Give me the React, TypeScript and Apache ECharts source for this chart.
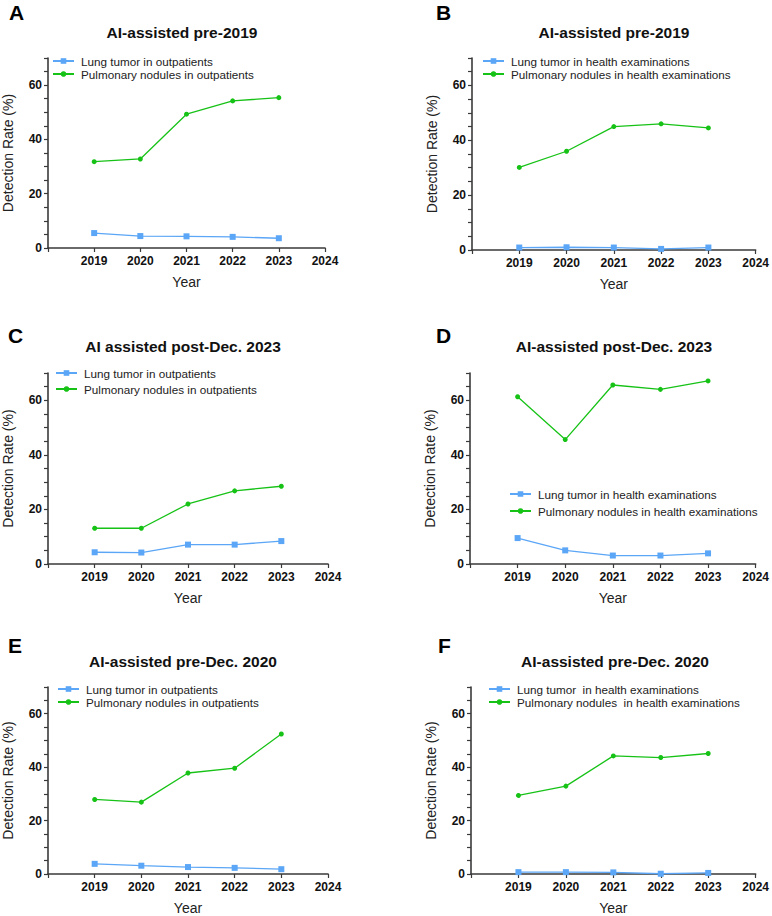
import React, { useEffect, useRef } from "react";
import * as echarts from "echarts";

const years = [2019, 2020, 2021, 2022, 2023];
const yTicks = [0, 20, 40, 60];
const xTickLabels = [2019, 2020, 2021, 2022, 2023, 2024];

const titles = [
  "AI-assisted pre-2019",
  "AI-assisted pre-2019",
  "AI assisted post-Dec. 2023",
  "AI-assisted post-Dec. 2023",
  "AI-assisted pre-Dec. 2020",
  "AI-assisted pre-Dec. 2020",
];
const letters = ["A", "B", "C", "D", "E", "F"];

const tumorNames = [
  "Lung tumor in outpatients",
  "Lung tumor in health examinations",
  "Lung tumor in outpatients",
  "Lung tumor in health examinations",
  "Lung tumor in outpatients",
  "Lung tumor  in health examinations",
];
const noduleNames = [
  "Pulmonary nodules in outpatients",
  "Pulmonary nodules in health examinations",
  "Pulmonary nodules in outpatients",
  "Pulmonary nodules in health examinations",
  "Pulmonary nodules in outpatients",
  "Pulmonary nodules  in health examinations",
];

const tumorA = [5.5, 4.4, 4.3, 4.1, 3.6];
const noduleA = [31.8, 32.8, 49.3, 54.2, 55.4];
const tumorB = [0.9, 1.0, 0.9, 0.4, 0.9];
const noduleB = [30.1, 36.0, 45.0, 46.0, 44.5];
const tumorC = [4.3, 4.2, 7.1, 7.1, 8.4];
const noduleC = [13.1, 13.1, 22.0, 26.8, 28.5];
const tumorD = [9.5, 5.0, 3.1, 3.1, 3.9];
const noduleD = [61.3, 45.6, 65.6, 64.0, 67.1];
const tumorE = [3.8, 3.1, 2.6, 2.3, 1.8];
const noduleE = [27.9, 26.9, 37.8, 39.6, 52.4];
const tumorF = [0.7, 0.7, 0.6, 0.1, 0.4];
const noduleF = [29.4, 32.9, 44.2, 43.6, 45.1];

const tumorSets = [tumorA, tumorB, tumorC, tumorD, tumorE, tumorF];
const noduleSets = [noduleA, noduleB, noduleC, noduleD, noduleE, noduleF];

// layout (pixels)
const grids = [
  { left: 40, top: 58, width: 285, height: 190 },
  { left: 472, top: 58, width: 286, height: 192 },
  { left: 40, top: 373, width: 288, height: 191 },
  { left: 470, top: 373, width: 288, height: 191 },
  { left: 40, top: 687, width: 288, height: 191 },
  { left: 471, top: 687, width: 287, height: 191 },
];
const titlePos = [
  [182, 32],
  [614, 32],
  [183, 346],
  [614, 346],
  [183, 661],
  [615, 661],
];
const letterPos = [
  [9, 12],
  [436, 12],
  [8, 335],
  [436, 335],
  [8, 645],
  [438, 645],
];
const legendPos = [
  { left: 52, top: 55, gap: 0 },
  { left: 482, top: 55, gap: 0 },
  { left: 55, top: 367, gap: 3 },
  { left: 509, top: 488, gap: 4 },
  { left: 57, top: 683, gap: 0 },
  { left: 488, top: 683, gap: 0 },
];

const BLUE = "#5ba6f6";
const GREEN = "#17c217";
const AXIS = "#3a3a3a";
const FONT = "Liberation Sans, Arial, sans-serif";

export default function App() {
  const ref = useRef<HTMLDivElement>(null);
  useEffect(() => {
    if (!ref.current) return;
    const chart = echarts.init(ref.current, null, { renderer: "svg" });
    const xAxis: any[] = [];
    const yAxis: any[] = [];
    const series: any[] = [];
    const legend: any[] = [];
    const graphic: any[] = [];
    grids.forEach((g, i) => {
      xAxis.push({
        type: "value",
        gridIndex: i,
        min: 2018,
        max: 2024,
        interval: 1,
        name: "Year",
        nameLocation: "middle",
        nameGap: 27,
        nameTextStyle: { fontSize: 14, color: "#222", fontFamily: FONT },
        splitLine: { show: false },
        axisLine: { lineStyle: { color: AXIS, width: 1.6 } },
        axisTick: { show: true, length: 4, lineStyle: { color: AXIS, width: 1.2 } },
        axisLabel: {
          fontSize: 12,
          fontWeight: "bold",
          color: "#111",
          fontFamily: FONT,
          margin: 7,
          formatter: (v: number) => (xTickLabels.includes(v) ? String(v) : ""),
        },
      });
      yAxis.push({
        type: "value",
        gridIndex: i,
        min: 0,
        max: 70,
        interval: 5,
        name: "Detection Rate (%)",
        nameLocation: "middle",
        nameGap: 33,
        nameTextStyle: { fontSize: 14, color: "#222", fontFamily: FONT },
        splitLine: { show: false },
        axisLine: { show: true, lineStyle: { color: AXIS, width: 1.6 } },
        axisTick: { show: true, length: 4, lineStyle: { color: AXIS, width: 1.2 } },
        axisLabel: {
          fontSize: 12,
          fontWeight: "bold",
          color: "#111",
          fontFamily: FONT,
          margin: 6,
          formatter: (v: number) => (yTicks.includes(v) ? String(v) : ""),
        },
      });
      series.push({
        type: "line",
        name: tumorNames[i],
        xAxisIndex: i,
        yAxisIndex: i,
        data: years.map((y, k) => [y, tumorSets[i][k]]),
        symbol: "rect",
        symbolSize: 6,
        itemStyle: { color: BLUE },
        lineStyle: { color: BLUE, width: 1.3 },
      });
      series.push({
        type: "line",
        name: noduleNames[i],
        xAxisIndex: i,
        yAxisIndex: i,
        data: years.map((y, k) => [y, noduleSets[i][k]]),
        symbol: "circle",
        symbolSize: 5,
        itemStyle: { color: GREEN },
        lineStyle: { color: GREEN, width: 1.3 },
      });
      const lp = legendPos[i];
      legend.push({
        orient: "vertical",
        left: lp.left,
        top: lp.top,
        itemGap: lp.gap + 1,
        itemWidth: 21,
        itemHeight: 7,
        padding: 0,
        selectedMode: false,
        data: [tumorNames[i], noduleNames[i]],
        textStyle: {
          fontSize: 11.7,
          lineHeight: 12,
          color: "#222",
          fontFamily: FONT,
          padding: [0, 0, 0, 2],
        },
      });
      graphic.push({
        type: "text",
        x: titlePos[i][0],
        y: titlePos[i][1],
        style: {
          text: titles[i],
          fill: "#111",
          font: `bold 15.5px ${FONT}`,
          textAlign: "center",
          textVerticalAlign: "middle",
        },
      });
      graphic.push({
        type: "text",
        x: letterPos[i][0],
        y: letterPos[i][1],
        style: {
          text: letters[i],
          fill: "#000",
          font: `bold 21px ${FONT}`,
          textAlign: "left",
          textVerticalAlign: "middle",
        },
      });
    });
    chart.setOption({
      animation: false,
      backgroundColor: "#fff",
      grid: grids.map((g) => ({ ...g, containLabel: false })),
      xAxis,
      yAxis,
      series,
      legend,
      graphic,
    });
    return () => chart.dispose();
  }, []);
  return (
    <div
      ref={ref}
      style={{ position: "fixed", left: 0, top: 0, width: 772, height: 916, background: "#fff" }}
    />
  );
}
